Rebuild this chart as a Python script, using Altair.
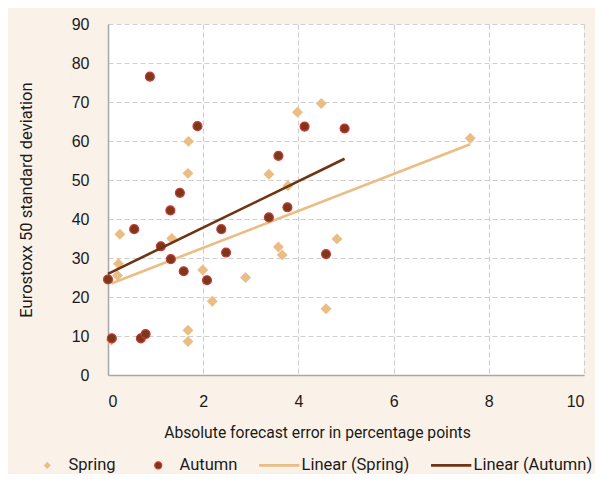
import altair as alt
import pandas as pd

# ---- data ----
spring_x = [0.07, 0.20, 0.22, 0.25, 1.34, 1.68, 1.68, 1.68, 1.69, 1.99, 2.19,
            2.89, 3.38, 3.58, 3.66, 3.78, 3.98, 4.48, 4.58, 4.81, 7.61]
spring_y = [9.0, 25.5, 28.5, 36.1, 35.0, 8.6, 11.5, 51.7, 59.9, 26.9, 18.9,
            25.0, 51.5, 32.8, 30.8, 48.5, 67.4, 69.6, 17.0, 34.9, 60.7]
autumn_x = [0.00, 0.08, 0.55, 0.69, 0.79, 0.88, 1.11, 1.31, 1.32, 1.51, 1.59,
            1.88, 2.08, 2.38, 2.48, 3.38, 3.58, 3.77, 4.13, 4.58, 4.97]
autumn_y = [24.5, 9.4, 37.4, 9.4, 10.5, 76.5, 33.0, 42.2, 29.7, 46.7, 26.6,
            63.8, 24.3, 37.4, 31.4, 40.4, 56.2, 43.0, 63.7, 31.0, 63.2]

series_names = ["Spring", "Autumn", "Linear (Spring)", "Linear (Autumn)"]
x_ticks = [0, 2, 4, 6, 8, 10]
y_ticks = [0, 10, 20, 30, 40, 50, 60, 70, 80, 90]

df = pd.DataFrame(
    [{"x": a, "y": b, "series": "Spring"} for a, b in zip(spring_x, spring_y)]
    + [{"x": a, "y": b, "series": "Autumn"} for a, b in zip(autumn_x, autumn_y)]
)

TAN = "#ebbd84"
BROWN = "#7a3a17"
RED = "#c9383a"
DARK = "#6e3413"
BEIGE = "#faf2e9"

# circle glyph whose legend bounds reach further left (extra spacing before "Autumn")
CIRCLE_PATH = "M-7,0M1,0A1,1,0,1,1,-1,0A1,1,0,1,1,1,0Z"
LINE_PATH = "M-6,0H5.4"

legend = alt.Legend(
    title=None, orient="none", legendX=-69, legendY=433, direction="horizontal",
    columns=4, columnPadding=15, labelFont="Roboto", labelFontSize=16.5,
    labelColor="#1a1a1a", symbolSize=50, labelOffset=13, symbolOpacity=1,
)

fill_enc = alt.Fill("series:N", scale=alt.Scale(domain=series_names, range=[TAN, BROWN, TAN, DARK]), legend=legend)
stroke_enc = alt.Stroke("series:N", scale=alt.Scale(domain=series_names, range=[TAN, RED, TAN, DARK]), legend=legend)
shape_enc = alt.Shape("series:N", scale=alt.Scale(domain=series_names,
                      range=["diamond", CIRCLE_PATH, LINE_PATH, LINE_PATH]), legend=legend)
sw_enc = alt.StrokeWidth("series:N", scale=alt.Scale(type="ordinal", domain=series_names, range=[0, 1.2, 2.6, 2.6]), legend=legend)

x_enc = alt.X("x:Q", scale=alt.Scale(domain=[0, 10], nice=False),
              axis=alt.Axis(values=x_ticks, title="Absolute forecast error in percentage points",
                            titleX=209, titleY=57, titleBaseline="middle", titleAlign="center",
                            labelPadding=18))
y_enc = alt.Y("y:Q", scale=alt.Scale(domain=[0, 90], nice=False),
              axis=alt.Axis(values=y_ticks, title="Eurostoxx 50 standard deviation",
                            titleX=-82, titleY=175.5, titleBaseline="middle", titleAlign="center",
                            titleAngle=-90, labelPadding=19))

base = alt.Chart(df)

spring_pts = base.transform_filter(alt.datum.series == "Spring").mark_point(
    filled=True, size=120, opacity=1).encode(x=x_enc, y=y_enc, fill=fill_enc, stroke=stroke_enc,
                                              shape=shape_enc, strokeWidth=sw_enc)
autumn_pts = base.transform_filter(alt.datum.series == "Autumn").mark_point(
    filled=True, size=80, opacity=1).encode(x=x_enc, y=y_enc, fill=fill_enc, stroke=stroke_enc,
                                             shape=shape_enc, strokeWidth=sw_enc)

spring_line = base.transform_filter(alt.datum.series == "Spring").transform_regression(
    "x", "y").transform_calculate(series="'Linear (Spring)'").mark_line().encode(
    x=x_enc, y=y_enc, stroke=stroke_enc, strokeWidth=sw_enc)
autumn_line = base.transform_filter(alt.datum.series == "Autumn").transform_regression(
    "x", "y").transform_calculate(series="'Linear (Autumn)'").mark_line().encode(
    x=x_enc, y=y_enc, stroke=stroke_enc, strokeWidth=sw_enc)

chart = alt.layer(spring_pts, spring_line, autumn_pts, autumn_line).properties(
    width=476, height=351,
    autosize=alt.AutoSizeParams(type="none"),
    padding={"left": 100, "top": 16, "right": 11, "bottom": 99},
    background=BEIGE,
).configure_view(
    fill="white", strokeWidth=0
).configure_axis(
    labelFont="Liberation Sans", labelFontSize=16, labelColor="#1a1a1a",
    titleFont="Roboto", titleFontSize=15.7, titleFontWeight="normal", titleColor="#1a1a1a",
    ticks=False, domainColor="#a8a8a8", domainWidth=1.5,
    gridColor="#cfcfcf", gridDash=[5, 3], gridWidth=1.2,
).configure_axisY(
    titleFontSize=16.5
)

chart.save("out.html", embed_options={"renderer": "svg", "actions": False})
